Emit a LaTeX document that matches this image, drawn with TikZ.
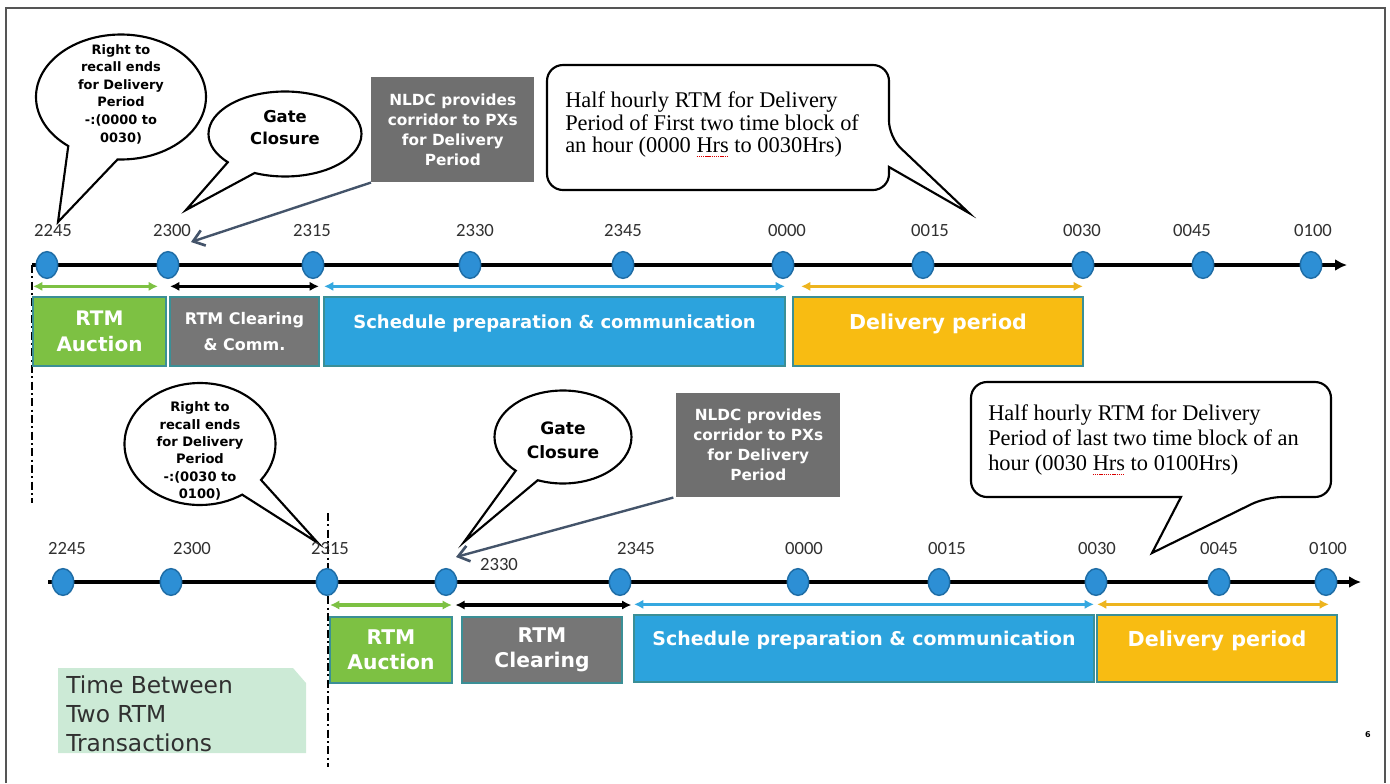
\documentclass[tikz,border=0pt]{standalone}
\usepackage{fontspec}
\setmainfont{Liberation Serif}
\setsansfont{DejaVu Sans}
\newfontfamily\ticksfont{Carlito}
\usetikzlibrary{arrows.meta}
\usetikzlibrary{shapes.geometric, shapes.callouts}
\usetikzlibrary{positioning}

\definecolor{dotblue}{HTML}{2D8FD5}
\definecolor{dotedge}{HTML}{1F6DA6}
\definecolor{auctgreen}{HTML}{7DC143}
\definecolor{cleargray}{HTML}{767676}
\definecolor{schedblue}{HTML}{2CA3DD}
\definecolor{delivyellow}{HTML}{F8BC12}
\definecolor{phaseedge}{HTML}{3B8F96}
\definecolor{nldcgray}{HTML}{6F6F6F}
\definecolor{corridorc}{HTML}{44546A}
\definecolor{spanblue}{HTML}{35A8E0}
\definecolor{spanyellow}{HTML}{EDB41E}
\definecolor{gapmint}{HTML}{CCEAD6}
\definecolor{tickgray}{HTML}{303030}
\definecolor{framegray}{HTML}{555555}

\newsavebox\spellbox
\newcommand\spellmark[1]{\sbox\spellbox{#1}\rlap{\raisebox{-3.5pt}{\textcolor{red!85!black}{%
  \hbox to \wd\spellbox{\xleaders\hbox{\rule{1pt}{0.6pt}\kern0.6pt}\hfill}}}}#1}

\begin{document}
\begin{tikzpicture}[x=0.75pt,y=-0.75pt,
  tdot/.style={ellipse, draw=dotedge, fill=dotblue, line width=1.1pt,
    minimum width=16pt, minimum height=20pt, inner sep=0pt},
  ticklabel/.style={font=\ticksfont\fontsize{14}{16}\selectfont, text=tickgray, inner sep=0pt},
  timeaxis/.style={line width=2.8pt, -{Latex[length=9pt,width=9pt]}},
  spanarrow/.style={line width=2.3pt, {Latex[length=7pt,width=7pt]}-{Latex[length=7pt,width=7pt]}},
  boxsize/.style 2 args={minimum width=#1*0.75pt, minimum height=#2*0.75pt},
  fs/.style 2 args={font=\sffamily\bfseries\fontsize{#1}{#2}\selectfont},
  phase/.style={draw=phaseedge, line width=1pt, text=white, inner sep=0pt,
    outer sep=0pt, anchor=north west, align=center},
  oneline/.style={text depth=15pt},
  nldc/.style={fill=nldcgray, text=white, inner sep=0pt, anchor=north west,
    align=center, fs={11.5}{15}},
  corridor/.style={draw=corridorc, line width=1.8pt, -{Straight Barb[length=8pt,width=12pt,line width=2pt]}},
  bubble/.style={ellipse callout, draw, fill=white, line width=1.6pt, inner sep=0pt},
  bubbletext/.style={align=center, inner sep=0pt},
  notetext/.style={align=left, anchor=west, inner sep=0pt},
  noteline/.style={draw, line width=1.6pt, fill=white},
  dashdot/.style={line width=1.7pt, dash pattern=on 6pt off 2.5pt on 1.5pt off 2.5pt}
]
\useasboundingbox (0,0) rectangle (1390,783);
\draw[framegray, line width=1.3pt] (6,783) -- (6,8) -- (1385,8) -- (1385,783);

% speech bubbles, first transaction
\coordinate (recallAtip) at (58,222);
\node[bubble, boxsize={170}{125}, callout absolute pointer=(recallAtip),
  callout pointer arc=36] (recallA) at (121,97) {};
\node[bubbletext, fs={9.7}{13.2}] (recallAtext) at (121,94)
  {Right to\\recall ends\\for Delivery\\Period\\-:(0000 to\\0030)};
\coordinate (gateAtip) at (186,210);
\node[bubble, boxsize={153}{85}, callout absolute pointer=(gateAtip),
  callout pointer arc=25] (gateAcall) at (285,134) {};
\node[bubbletext, fs={12.3}{16.5}] (gateAtext) at (285,128) {Gate\\Closure};

\node[nldc, boxsize={163}{105}] (nldcA) at (371,77)
  {NLDC provides\\corridor to PXs\\for Delivery\\Period};
\coordinate (gateA) at (191,242);
\draw[corridor] (nldcA.south west) -- (gateA);

\draw[noteline] (700,65) [rounded corners=12pt] -- (889,65) -- (889,137)
  [sharp corners] -- (969,213) -- (889,167) [rounded corners=12pt]
  -- (889,190) -- (547,190) -- (547,65) -- cycle;
\node[notetext, font=\fontsize{16.8}{16.9}\selectfont] (noteA) at (565,124.5)
  {Half hourly RTM for Delivery\\Period of First two time block of\\an hour (0000 \spellmark{Hrs} to 0030Hrs)};

% speech bubbles, second transaction
\coordinate (recallBtip) at (318,543);
\node[bubble, boxsize={151}{122}, callout absolute pointer=(recallBtip),
  callout pointer arc=20] (recallB) at (200,444) {};
\node[bubbletext, fs={9.8}{13}] (recallBtext) at (200,451)
  {Right to\\recall ends\\for Delivery\\Period\\-:(0030 to\\0100)};
\coordinate (gateBtip) at (464,542);
\node[bubble, boxsize={137}{93}, callout absolute pointer=(gateBtip),
  callout pointer arc=22] (gateBcall) at (563,437) {};
\node[bubbletext, fs={12.8}{18}] (gateBtext) at (563,440) {Gate\\Closure};

\node[nldc, boxsize={164}{104}] (nldcB) at (676,393)
  {NLDC provides\\corridor to PXs\\for Delivery\\Period};
\coordinate (gateB) at (456,557);
\draw[corridor] ([xshift=-2pt]nldcB.south west) -- (gateB);

\draw[noteline] (1150,382) [rounded corners=12pt] -- (1331,382) -- (1331,497)
  -- (1266,497) [sharp corners] -- (1152,553) -- (1181,497) [rounded corners=12pt]
  -- (971,497) -- (971,382) -- cycle;
\node[notetext, font=\fontsize{16.8}{18.75}\selectfont] (noteB) at (988,440)
  {Half hourly RTM for Delivery\\Period of last two time block of an\\hour (0030 \spellmark{Hrs} to 0100Hrs)};

% time axes
\draw[timeaxis] (32,265) -- (1347,265);
\draw[dashdot] (32,265) -- (32,503);
\foreach \lab/\x/\lx in {2245/47/53, 2300/168/172, 2315/313/312, 2330/470/475,
    2345/623/623, 0000/783/787, 0015/923/930, 0030/1083/1082, 0045/1203/1192, 0100/1311/1313}{
  \node[tdot] (a\lab) at (\x,265) {};
  \node[ticklabel] (la\lab) at (\lx,230) {\lab};
}

\draw[timeaxis] (48,582) -- (1361,582);
\draw[dashdot] (328,513) -- (328,767);
\foreach \lab/\x/\lx/\ly in {2245/63/67/548, 2300/171/192/548, 2315/327/330/548,
    2330/446/499/564, 2345/620/636/548, 0000/798/804/548, 0015/939/947/548,
    0030/1096/1097/548, 0045/1219/1219/548, 0100/1326/1328/548}{
  \node[tdot] (b\lab) at (\x,582) {};
  \node[ticklabel] (lb\lab) at (\lx,\ly) {\lab};
}

% phases
\node[phase, fill=auctgreen, boxsize={133}{69}, fs={15}{19.5}] (auctA) at (33,297) {RTM\\Auction};
\node[phase, fill=cleargray, boxsize={149}{69}, fs={12}{19}] (clearA) at (170,297) {RTM Clearing\\\& Comm.};
\node[phase, fill=schedblue, boxsize={461}{69}, fs={13.5}{16}, oneline] (schedA) at (324,297)
  {Schedule preparation \& communication};
\node[phase, fill=delivyellow, boxsize={290}{69}, fs={15.4}{18}, oneline] (delivA) at (793,297) {Delivery period};

\node[phase, fill=auctgreen, boxsize={122}{66}, fs={15.2}{19}] (auctB) at (330,617) {RTM\\Auction};
\node[phase, fill=cleargray, boxsize={160}{66}, fs={15.2}{19}] (clearB) at (462,617) {RTM\\Clearing};
\node[phase, fill=schedblue, boxsize={460}{67}, fs={14.2}{16}, oneline] (schedB) at (634,615)
  {Schedule preparation \& communication};
\node[phase, fill=delivyellow, boxsize={240}{67}, fs={15.5}{18}, oneline] (delivB) at (1097,615) {Delivery period};

\draw[spanarrow, auctgreen] ([yshift=8pt]auctA.north west) -- ([yshift=8pt,xshift=-6pt]auctA.north east);
\draw[spanarrow, black] ([yshift=8pt]clearA.north west) -- ([yshift=8pt]clearA.north east);
\draw[spanarrow, spanblue] ([yshift=8pt]schedA.north west) -- ([yshift=8pt]schedA.north east);
\draw[spanarrow, spanyellow] ([yshift=8pt,xshift=6pt]delivA.north west) -- ([yshift=8pt]delivA.north east);

\draw[spanarrow, auctgreen] ([yshift=9pt]auctB.north west) -- ([yshift=9pt]auctB.north east);
\draw[spanarrow, black] ([yshift=9pt,xshift=-5pt]clearB.north west) -- ([yshift=9pt,xshift=7pt]clearB.north east);
\draw[spanarrow, spanblue] ([yshift=8pt]schedB.north west) -- ([yshift=8pt]schedB.north east);
\draw[spanarrow, spanyellow] ([yshift=8pt]delivB.north west) -- ([yshift=8pt,xshift=-6pt]delivB.north east);

% gap between transactions
\fill[gapmint] (58,668) -- (293,668) -- (306,683) -- (306,753) -- (58,753) -- cycle;
\node[notetext, text=tickgray, font=\sffamily\fontsize{17.5}{21.75}\selectfont] (gapnote) at (66,714)
  {Time Between\\Two RTM\\Transactions};

\node[font=\sffamily\bfseries\fontsize{6}{7}\selectfont] (pagenum) at (1368,735) {6};
\end{tikzpicture}
\end{document}
